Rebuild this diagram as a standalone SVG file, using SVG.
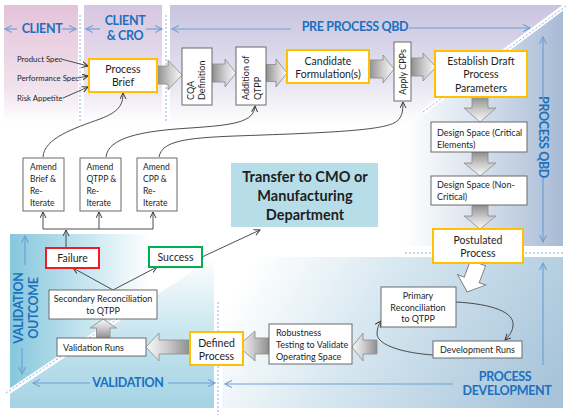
<svg xmlns="http://www.w3.org/2000/svg" width="567" height="415" viewBox="0 0 567 415">
<defs>
<style>
text{font-family:Lato,"Open Sans","Liberation Sans",sans-serif;fill:#1e1e1e}
.hd{font-weight:bold;fill:#1b70c0;font-size:12.5px;letter-spacing:-0.35px}
.bx{fill:#fff;stroke:#6b6b6b;stroke-width:1}
.gold{fill:#fff;stroke:#ffc000;stroke-width:2}
.t10{font-size:10.5px;text-anchor:middle}
.t9{font-size:9px}
.t9c{font-size:9px;text-anchor:middle}
.t8{font-size:8.5px}
.sl{font-size:7.8px}
.ha{stroke:#6f9fd6;stroke-width:1.2;fill:none;marker-end:url(#bh)}
.cn{stroke:#3a3a3a;stroke-width:0.9;fill:none;marker-end:url(#ah)}
.dv{stroke:#fff;stroke-width:5;fill:none}
.dd{stroke:#7aa5d8;stroke-width:0.9;stroke-dasharray:2 2;fill:none}
.ar{stroke:#8a8a8a;stroke-width:0.8}
</style>
<marker id="ah" markerUnits="userSpaceOnUse" markerWidth="8" markerHeight="8" refX="6" refY="3.5" orient="auto"><path d="M0,0.5 L6,3.5 L0,6.5" fill="none" stroke="#3a3a3a" stroke-width="1"/></marker>
<marker id="bh" markerUnits="userSpaceOnUse" markerWidth="9" markerHeight="9" refX="7" refY="4" orient="auto"><path d="M0,0.5 L7,4 L0,7.5" fill="none" stroke="#6f9fd6" stroke-width="1.1"/></marker>
<linearGradient id="gClient" x1="0" y1="0" x2="0" y2="1"><stop offset="0" stop-color="#e4c3da"/><stop offset="0.7" stop-color="#f1e2ec"/><stop offset="1" stop-color="#fff"/></linearGradient>
<linearGradient id="gCro" x1="0" y1="0" x2="0" y2="1"><stop offset="0" stop-color="#d7c6e0"/><stop offset="0.7" stop-color="#ece4f1"/><stop offset="1" stop-color="#fff"/></linearGradient>
<linearGradient id="gPre" x1="0" y1="0" x2="0" y2="1"><stop offset="0" stop-color="#c8c4df"/><stop offset="0.6" stop-color="#e4e2f0"/><stop offset="1" stop-color="#fff"/></linearGradient>
<linearGradient id="gQbd" gradientUnits="userSpaceOnUse" x1="405" y1="0" x2="563" y2="0"><stop offset="0" stop-color="#fff"/><stop offset="0.45" stop-color="#d9e2ee"/><stop offset="1" stop-color="#a8bbd5"/></linearGradient>
<linearGradient id="gDev" gradientUnits="userSpaceOnUse" x1="260" y1="250" x2="540" y2="420"><stop offset="0" stop-color="#fff"/><stop offset="0.4" stop-color="#d6e7f0"/><stop offset="1" stop-color="#a6c3d9"/></linearGradient>
<linearGradient id="gOut" gradientUnits="userSpaceOnUse" x1="10" y1="0" x2="150" y2="0"><stop offset="0" stop-color="#85c7dc"/><stop offset="0.5" stop-color="#c2e3ee"/><stop offset="1" stop-color="#fff"/></linearGradient>
<linearGradient id="gVal" gradientUnits="userSpaceOnUse" x1="0" y1="257" x2="0" y2="408"><stop offset="0" stop-color="#fff"/><stop offset="0.5" stop-color="#c8e5ef"/><stop offset="1" stop-color="#a4d3e3"/></linearGradient>
<linearGradient id="gR" x1="0" y1="0" x2="1" y2="0"><stop offset="0" stop-color="#8e8e8e"/><stop offset="0.55" stop-color="#cfcfcf"/><stop offset="1" stop-color="#fafafa"/></linearGradient>
<linearGradient id="gL" x1="1" y1="0" x2="0" y2="0"><stop offset="0" stop-color="#8e8e8e"/><stop offset="0.55" stop-color="#cfcfcf"/><stop offset="1" stop-color="#fafafa"/></linearGradient>
<linearGradient id="gD" x1="0" y1="0" x2="0" y2="1"><stop offset="0" stop-color="#8e8e8e"/><stop offset="0.55" stop-color="#cfcfcf"/><stop offset="1" stop-color="#fafafa"/></linearGradient>
<linearGradient id="gU" x1="0" y1="1" x2="0" y2="0"><stop offset="0" stop-color="#8e8e8e"/><stop offset="0.55" stop-color="#cfcfcf"/><stop offset="1" stop-color="#fafafa"/></linearGradient>
</defs>

<g id="background">
<rect x="0" y="0" width="567" height="415" fill="#fff"/>
<rect x="4" y="5" width="74" height="118" fill="url(#gClient)"/>
<rect x="84" y="5" width="78" height="118" fill="url(#gCro)"/>
<polygon points="170,5 563,5 563,8 412,120 412,125 170,125" fill="url(#gPre)"/>
<polygon points="563,8 405,126 405,246 563,246" fill="url(#gQbd)"/>
<rect x="222" y="257" width="341" height="151" fill="url(#gDev)"/>
<polygon points="10,234 150,234 150,299 10,392" fill="url(#gOut)"/>
<polygon points="10,392 214,257 214,408 10,408" fill="url(#gVal)"/>
<line class="dv" x1="423" y1="112" x2="568" y2="4"/>
<line class="dd" x1="423" y1="112" x2="566" y2="6"/>
<line class="dv" x1="4" y1="395" x2="130" y2="311"/>
<line class="dd" x1="6" y1="393" x2="128" y2="312"/>
<line class="dd" x1="80" y1="15" x2="80" y2="122"/>
<line class="dd" x1="166" y1="15" x2="166" y2="122"/>
<line class="dd" x1="405" y1="253" x2="563" y2="253"/>
<line class="dd" x1="218" y1="302" x2="218" y2="415"/>
</g>

<g id="headers">
<text class="hd" x="42" y="33" text-anchor="middle">CLIENT</text>
<path class="ha" d="M17,29 H5"/><path class="ha" d="M62,29 H76"/>
<text class="hd" x="125" y="25" text-anchor="middle">CLIENT</text>
<text class="hd" x="125" y="40" text-anchor="middle">&amp; CRO</text>
<path class="ha" d="M100,29 H86"/><path class="ha" d="M146,29 H162"/>
<text class="hd" x="355" y="31" text-anchor="middle">PRE PROCESS QBD</text>
<path class="ha" d="M291,29 H172"/><path class="ha" d="M409,28 H530"/>
<text class="hd" text-anchor="middle" transform="translate(539,137) rotate(90)">PROCESS QBD</text>
<path class="ha" d="M543,100 V37"/><path class="ha" d="M543,178 V242"/>
<text class="hd" x="505" y="381" text-anchor="middle">PROCESS</text>
<text class="hd" x="507" y="395" text-anchor="middle">DEVELOPMENT</text>
<path class="ha" d="M543,365 V263"/><path class="ha" d="M453,384 H225"/>
<text class="hd" x="128" y="387" text-anchor="middle">VALIDATION</text>
<path class="ha" d="M90,383 H33"/><path class="ha" d="M168,383 H215"/>
<text class="hd" text-anchor="middle" transform="translate(23,308) rotate(-90)">VALIDATION</text>
<text class="hd" text-anchor="middle" transform="translate(38,308) rotate(-90)">OUTCOME</text>
<path class="ha" d="M25,265 V236"/><path class="ha" d="M22,348 V374"/>
</g>

<g id="block-arrows">
<polygon class="ar" fill="url(#gR)" points="157,66 168,66 168,60 182,75 168,90 168,84 157,84"/>
<polygon class="ar" fill="url(#gR)" points="212,64 225,64 225,59 236,73 225,87 225,82 212,82"/>
<polygon class="ar" fill="url(#gR)" points="266,64.5 276,64.5 276,59 287,73 276,87 276,81.5 266,81.5"/>
<polygon class="ar" fill="url(#gR)" points="369,60 383,60 383,55 394,69 383,83 383,78 369,78"/>
<polygon class="ar" fill="url(#gR)" points="411,58 423,58 423,53 436,67 423,81 423,76 411,76"/>
<polygon class="ar" fill="url(#gD)" points="472,97 488,97 488,108 496,108 480,122 464,108 472,108"/>
<polygon class="ar" fill="url(#gD)" points="472,152 488,152 488,163 496,163 480,176 464,163 472,163"/>
<polygon class="ar" fill="url(#gD)" points="472,205 488,205 488,216 496,216 480,229 464,216 472,216"/>
<polygon fill="#fff" stroke="#7a7a7a" stroke-width="0.9" transform="translate(478,263) rotate(20.5)" points="-8,0 8,0 8,18 15,18 0,31 -15,18 -8,18"/>
<polygon class="ar" fill="url(#gL)" points="377,340 363,340 363,333 352,347 363,361 363,354 377,354"/>
<polygon class="ar" fill="url(#gL)" points="269,338 255,338 255,331 238,346 255,361 255,354 269,354"/>
<polygon class="ar" fill="url(#gL)" points="190,340 159,340 159,333 146,347 159,361 159,354 190,354"/>
<polygon class="ar" fill="url(#gU)" points="96.5,338 96.5,328 90,328 103,319 116.5,328 110,328 110,338"/>
</g>

<g id="connectors">
<path class="cn" d="M61,59 L88,66"/>
<path class="cn" d="M78,78 L88,76"/>
<path class="cn" d="M63,98 L88,87"/>
<path class="cn" d="M43,157 C44,138 75,128 100,119 C118,112 123,106 123,93"/>
<path class="cn" d="M106,157 C108,138 140,131 190,128 C235,125 254,122 255,106"/>
<path class="cn" d="M159,157 C162,141 185,138 235,136 C320,133 378,131 394,123 C402,119 403,112 403,102"/>
<path class="cn" d="M66,248 V230"/>
<path d="M43,229 H153" stroke="#3a3a3a" stroke-width="0.9" fill="none"/>
<path class="cn" d="M43,229 V212"/>
<path class="cn" d="M99,229 V212"/>
<path class="cn" d="M153,229 V212"/>
<path class="cn" d="M113,290 L73,268"/>
<path class="cn" d="M113,290 L157,267"/>
<path class="cn" d="M202,257 L260,230"/>
<path class="cn" d="M456,302 C492,304 515,312 513,326 C512,333 508,337 505,340"/>
<path class="cn" d="M433,355 C405,353 378,346 377,334 C377,328 379,324 381,321"/>
</g>

<g id="inputs">
<text class="sl" x="17" y="62">Product Spec</text>
<text class="sl" x="17" y="81">Performance Spec</text>
<text class="sl" x="17" y="101">Risk Appetite</text>
</g>

<g id="process-brief"><rect class="gold" x="89" y="59" width="68" height="33"/><text class="t10" x="123" y="73">Process</text><text class="t10" x="123" y="86">Brief</text></g>
<g id="cqa"><rect class="bx" x="182" y="48" width="30" height="57"/><text class="t9" transform="translate(193.5,100) rotate(-90)">CQA</text><text class="t9" transform="translate(205,100) rotate(-90)">Definition</text></g>
<g id="qtpp"><rect class="bx" x="236" y="47" width="30" height="58"/><text class="t9" transform="translate(248.5,100) rotate(-90)">Addition of</text><text class="t9" transform="translate(261,100) rotate(-90)">QTPP</text></g>
<g id="candidate"><rect class="gold" x="287" y="50" width="82" height="33"/><text class="t10" x="328" y="64.5">Candidate</text><text class="t10" x="328" y="77.5">Formulation(s)</text></g>
<g id="apply"><rect class="bx" x="394" y="42" width="17" height="59"/><text class="t9c" transform="translate(405.5,72) rotate(-90)">Apply CPPs</text></g>
<g id="establish"><rect class="gold" x="435" y="51" width="92" height="46"/><text class="t10" x="481" y="64.5">Establish Draft</text><text class="t10" x="481" y="78">Process</text><text class="t10" x="481" y="91.5">Parameters</text></g>
<g id="ds-critical"><rect class="bx" x="431" y="122" width="96" height="30"/><text class="t9" x="437" y="136">Design Space (Critical</text><text class="t9" x="437" y="148">Elements)</text></g>
<g id="ds-noncritical"><rect class="bx" x="431" y="176" width="96" height="29"/><text class="t9" x="437" y="187.5">Design Space (Non-</text><text class="t9" x="437" y="199.5">Critical)</text></g>
<g id="postulated"><rect class="gold" x="433" y="229" width="90" height="34"/><text class="t10" x="478" y="243.5">Postulated</text><text class="t10" x="478" y="256.5">Process</text></g>
<g id="primary"><rect class="bx" x="381" y="287" width="75" height="40"/><text class="t9c" x="418" y="299">Primary</text><text class="t9c" x="418" y="310.5">Reconciliation</text><text class="t9c" x="418" y="322">to QTPP</text></g>
<g id="dev-runs"><rect class="bx" x="433" y="341" width="89" height="17"/><text class="t9c" x="477.5" y="353">Development Runs</text></g>
<g id="robustness"><rect class="bx" x="269" y="324" width="83" height="40"/><text class="t9" x="276" y="336">Robustness</text><text class="t9" x="276" y="348">Testing to Validate</text><text class="t9" x="276" y="360">Operating Space</text></g>
<g id="defined"><rect class="gold" x="190" y="332" width="53" height="33"/><text class="t10" x="216.5" y="346.5">Defined</text><text class="t10" x="216.5" y="359.5">Process</text></g>
<g id="validation-runs"><rect class="bx" x="57" y="338" width="89" height="18"/><text class="t9" x="63" y="350.5">Validation Runs</text></g>
<g id="secondary"><rect class="bx" x="49" y="290" width="108" height="29"/><text class="t9c" x="103" y="302">Secondary Reconciliation</text><text class="t9c" x="103" y="313.5">to QTPP</text></g>
<g id="failure"><rect x="46" y="248" width="53" height="20" fill="#fff" stroke="#ee1c25" stroke-width="2"/><text class="t10" x="72.5" y="261.5">Failure</text></g>
<g id="success"><rect x="149" y="247" width="53" height="20" fill="#fff" stroke="#00b050" stroke-width="2"/><text class="t10" x="175.5" y="260.5">Success</text></g>
<g id="transfer"><rect x="231" y="163" width="147" height="64" fill="#b7dde8"/><text x="305" y="182" text-anchor="middle" font-weight="bold" font-size="14.5">Transfer to CMO or</text><text x="305" y="201" text-anchor="middle" font-weight="bold" font-size="14.5">Manufacturing</text><text x="305" y="220" text-anchor="middle" font-weight="bold" font-size="14.5">Department</text></g>
<g id="amend-brief"><rect class="bx" x="23" y="158" width="41" height="53"/><text class="t8" x="30" y="170">Amend</text><text class="t8" x="30" y="182">Brief &amp;</text><text class="t8" x="30" y="194">Re-</text><text class="t8" x="30" y="205.5">Iterate</text></g>
<g id="amend-qtpp"><rect class="bx" x="80" y="158" width="41" height="53"/><text class="t8" x="86.5" y="170">Amend</text><text class="t8" x="86.5" y="182">QTPP &amp;</text><text class="t8" x="86.5" y="194">Re-</text><text class="t8" x="86.5" y="205.5">Iterate</text></g>
<g id="amend-cpp"><rect class="bx" x="137" y="158" width="40" height="53"/><text class="t8" x="143" y="170">Amend</text><text class="t8" x="143" y="182">CPP &amp;</text><text class="t8" x="143" y="194">Re-</text><text class="t8" x="143" y="205.5">Iterate</text></g>
</svg>
